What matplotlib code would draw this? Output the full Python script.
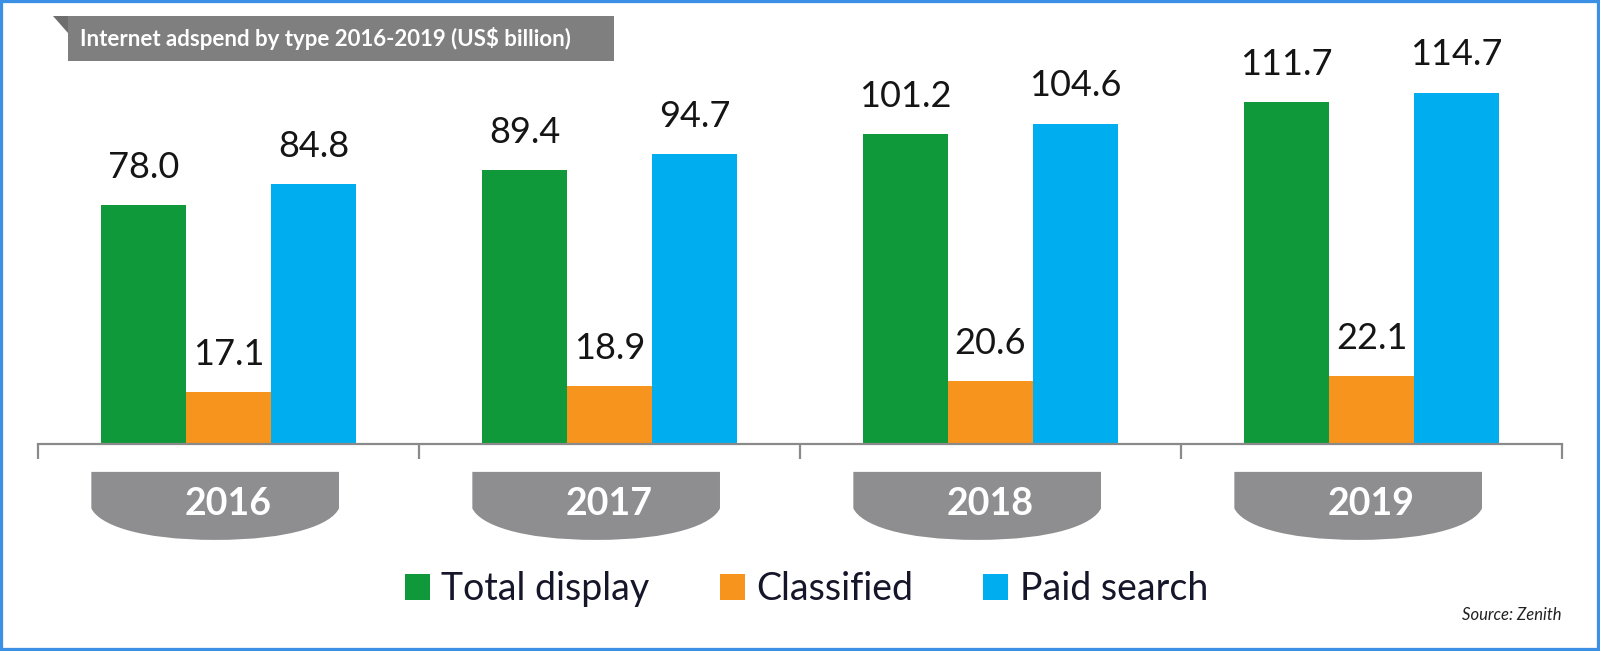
import numpy as np
import matplotlib
matplotlib.use("Agg")
import matplotlib.pyplot as plt
from matplotlib.patches import Rectangle, Polygon, PathPatch, Patch
from matplotlib.path import Path

plt.rcParams['font.family'] = ['Lato', 'DejaVu Sans']

# data
years = ['2016', '2017', '2018', '2019']
series = ['Total display', 'Classified', 'Paid search']
total_display = [78.0, 89.4, 101.2, 111.7]
classified = [17.1, 18.9, 20.6, 22.1]
paid_search = [84.8, 94.7, 104.6, 114.7]
colors = ['#10993a', '#f7941d', '#00aeef']

W, H = 1600, 651
fig = plt.figure(figsize=(W / 100, H / 100), dpi=100)
fig.patch.set_facecolor('white')

ax = fig.add_axes([38 / W, 1 - 444 / H, (1562 - 38) / W, (444 - 61) / H])
ax.set_xlim(-0.5, len(years) - 0.5)
ax.set_ylim(0, 125)

x = np.arange(len(years))
bw = 0.223
for i, vals in enumerate([total_display, classified, paid_search]):
    bars = ax.bar(x + (i - 1) * bw, vals, bw, color=colors[i], label=series[i], zorder=2)
    for b, v in zip(bars, vals):
        ax.annotate(f'{v:.1f}', (b.get_x() + b.get_width() / 2, v),
                    xytext=(0, 19.5), textcoords='offset points',
                    ha='center', va='baseline', fontsize=26, color='#151515')

# axis line with category separators
for s in ['top', 'left', 'right']:
    ax.spines[s].set_visible(False)
ax.spines['bottom'].set_color('#8a8a8a')
ax.spines['bottom'].set_linewidth(1.6)
ax.set_yticks([])
ax.set_xticks(np.arange(-0.5, len(years)))
ax.set_xticklabels([])
ax.tick_params(axis='x', direction='out', length=11, width=1.6, color='#8a8a8a')

# year tabs below the axis
tab_w = 0.65
y_top, y_side, y_bot = -9.1, -21.0, -31.3
for i, yr in enumerate(years):
    xc = i - 0.035
    xl, xr = xc - tab_w / 2, xc + tab_w / 2
    verts = [(xl, y_top), (xr, y_top), (xr, y_side),
             (xr - 0.02, y_bot + 5), (xc + 0.2, y_bot), (xc, y_bot),
             (xc - 0.2, y_bot), (xl + 0.02, y_bot + 5), (xl, y_side),
             (xl, y_top)]
    codes = [Path.MOVETO, Path.LINETO, Path.LINETO,
             Path.CURVE4, Path.CURVE4, Path.CURVE4,
             Path.CURVE4, Path.CURVE4, Path.CURVE4,
             Path.CLOSEPOLY]
    ax.add_patch(PathPatch(Path(verts, codes), facecolor='#8e8e90',
                           edgecolor='none', clip_on=False))
    ax.text(i, -23.2, yr, ha='center', va='baseline', fontsize=27,
            fontweight='bold', color='white', clip_on=False)

# legend
handles = [Patch(facecolor=c, edgecolor='none') for c in colors]
fig.legend(handles, series, loc='center', bbox_to_anchor=(0.504, 1 - 589 / H),
           ncol=3, frameon=False, fontsize=27, handlelength=0.67,
           handleheight=0.72, handletextpad=0.3, columnspacing=1.87,
           labelcolor='#16162a')

# title banner
fig.patches.append(Rectangle((68 / W, 1 - 61 / H), 546 / W, 45 / H,
                             transform=fig.transFigure, facecolor='#7f7f7f',
                             edgecolor='none'))
fig.patches.append(Polygon([(53 / W, 1 - 16 / H), (68 / W, 1 - 16 / H), (68 / W, 1 - 33 / H)],
                           closed=True, transform=fig.transFigure,
                           facecolor='#6e6e6e', edgecolor='none'))
fig.text(80 / W, 1 - 39 / H, 'Internet adspend by type 2016-2019 (US$ billion)',
         ha='left', va='center', fontsize=16, fontweight='bold', color='white')

fig.text(1561 / W, 1 - 620 / H, 'Source: Zenith', ha='right', va='baseline',
         fontsize=12, style='italic', color='#222222')

# blue frame
fig.patches.append(Rectangle((0, 0), 1, 1, transform=fig.transFigure,
                             fill=False, edgecolor='#3b8fe4', linewidth=4.5))

fig.savefig('out.png', dpi=100)
